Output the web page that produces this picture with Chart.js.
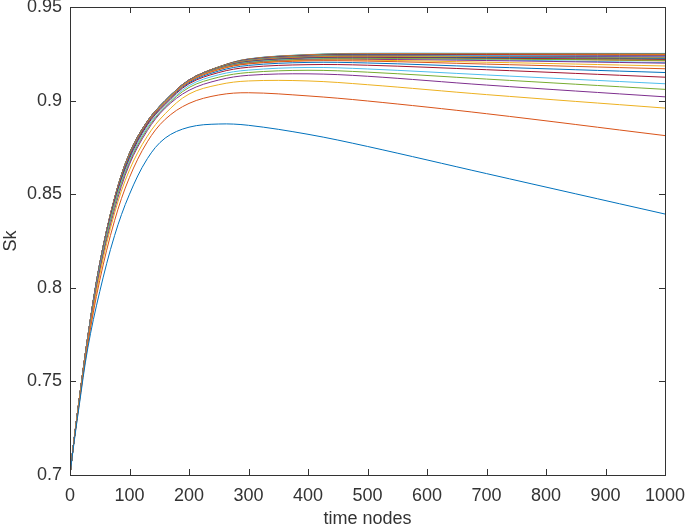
<!DOCTYPE html>
<html>
<head>
<meta charset="utf-8">
<script src="https://cdn.jsdelivr.net/npm/chart.js@4"></script>
<style>
  body { margin: 0; background: #fff; }
</style>
</head>
<body>
<canvas id="skChart" width="685" height="530"></canvas>
<script>
// sample positions along the time axis
const timeNodes = [0, 5, 15, 30, 50, 75, 100, 130, 160, 200, 250, 300, 400, 500, 700, 1000];

// lower, well separated curves
const sk01 = [0.700, 0.713, 0.736, 0.768, 0.798, 0.828, 0.850, 0.869, 0.880, 0.8858, 0.8875, 0.8868, 0.8820, 0.8755, 0.8610, 0.8394];
const sk02 = [0.700, 0.7135, 0.737, 0.770, 0.804, 0.836, 0.859, 0.878, 0.890, 0.8985, 0.9030, 0.9042, 0.9025, 0.8998, 0.8930, 0.8813];
const sk03 = [0.700, 0.7138, 0.738, 0.771, 0.807, 0.840, 0.863, 0.881, 0.893, 0.9035, 0.9085, 0.9105, 0.9105, 0.9085, 0.9032, 0.8960];
const sk04 = [0.700, 0.714, 0.738, 0.772, 0.809, 0.842, 0.866, 0.884, 0.896, 0.9055, 0.9110, 0.9135, 0.9143, 0.9130, 0.9083, 0.9020];
const sk05 = [0.700, 0.714, 0.7385, 0.7725, 0.810, 0.844, 0.867, 0.885, 0.8965, 0.9070, 0.9125, 0.9150, 0.9162, 0.9152, 0.9115, 0.9060];
const sk06 = [0.700, 0.714, 0.7385, 0.773, 0.811, 0.845, 0.868, 0.886, 0.897, 0.9080, 0.9138, 0.9163, 0.9177, 0.9169, 0.9137, 0.9090];
const sk07 = [0.700, 0.714, 0.739, 0.773, 0.8115, 0.846, 0.869, 0.887, 0.898, 0.9090, 0.9150, 0.9178, 0.9192, 0.9189, 0.9165, 0.9125];
const sk08 = [0.700, 0.714, 0.739, 0.7735, 0.812, 0.8465, 0.870, 0.8875, 0.8985, 0.9095, 0.9158, 0.9188, 0.9204, 0.9201, 0.9180, 0.9150];
const sk09 = [0.700, 0.714, 0.739, 0.7735, 0.812, 0.847, 0.8705, 0.888, 0.899, 0.9100, 0.9165, 0.9196, 0.9212, 0.9211, 0.9195, 0.9170];

// the dense band at the top
const sk10 = [0.700, 0.714, 0.739, 0.7736, 0.8122, 0.8472, 0.8707, 0.8882, 0.8993, 0.9103, 0.9168, 0.9198, 0.9216, 0.9216, 0.9205, 0.9185];
const sk11 = [0.700, 0.714, 0.739, 0.7737, 0.8123, 0.8473, 0.8709, 0.8884, 0.8995, 0.9105, 0.9170, 0.9200, 0.9218, 0.9220, 0.9214, 0.9200];
const sk12 = [0.700, 0.714, 0.739, 0.7737, 0.8124, 0.8474, 0.8711, 0.8885, 0.8996, 0.9106, 0.9172, 0.9203, 0.9221, 0.9224, 0.9222, 0.9215];
const sk13 = [0.700, 0.714, 0.739, 0.7738, 0.8125, 0.8475, 0.8712, 0.8886, 0.8997, 0.9107, 0.9173, 0.9205, 0.9223, 0.9226, 0.9218, 0.9203];
const sk14 = [0.700, 0.714, 0.739, 0.7738, 0.8126, 0.8476, 0.8713, 0.8887, 0.8997, 0.9108, 0.9174, 0.9207, 0.9226, 0.9229, 0.9226, 0.9220];
const sk15 = [0.700, 0.714, 0.739, 0.7738, 0.8126, 0.8477, 0.8714, 0.8887, 0.8998, 0.9108, 0.9175, 0.9209, 0.9228, 0.9231, 0.9230, 0.9226];
const sk16 = [0.700, 0.714, 0.739, 0.7739, 0.8127, 0.8477, 0.8715, 0.8888, 0.8998, 0.9109, 0.9176, 0.9210, 0.9230, 0.9233, 0.9226, 0.9212];
const sk17 = [0.700, 0.714, 0.739, 0.7739, 0.8127, 0.8478, 0.8716, 0.8888, 0.8999, 0.9109, 0.9177, 0.9212, 0.9232, 0.9236, 0.9233, 0.9229];
const sk18 = [0.700, 0.714, 0.739, 0.7739, 0.8128, 0.8478, 0.8716, 0.8889, 0.8999, 0.9110, 0.9177, 0.9213, 0.9234, 0.9238, 0.9236, 0.9233];
const sk19 = [0.700, 0.714, 0.739, 0.7739, 0.8128, 0.8479, 0.8717, 0.8889, 0.8999, 0.9110, 0.9178, 0.9215, 0.9236, 0.9240, 0.9235, 0.9222];
const sk20 = [0.700, 0.714, 0.739, 0.7740, 0.8129, 0.8479, 0.8718, 0.8890, 0.9000, 0.9110, 0.9178, 0.9216, 0.9237, 0.9242, 0.9240, 0.9237];
const sk21 = [0.700, 0.714, 0.739, 0.7740, 0.8129, 0.8479, 0.8718, 0.8890, 0.9000, 0.9110, 0.9179, 0.9218, 0.9239, 0.9244, 0.9243, 0.9240];
const sk22 = [0.700, 0.714, 0.739, 0.7740, 0.8129, 0.8480, 0.8719, 0.8890, 0.9000, 0.9110, 0.9179, 0.9219, 0.9240, 0.9246, 0.9241, 0.9230];
const sk23 = [0.700, 0.714, 0.739, 0.7740, 0.8130, 0.8480, 0.8719, 0.8890, 0.9000, 0.9110, 0.9179, 0.9220, 0.9242, 0.9247, 0.9246, 0.9244];
const sk24 = [0.700, 0.714, 0.739, 0.7740, 0.8130, 0.8480, 0.8720, 0.8890, 0.9000, 0.9110, 0.9180, 0.9221, 0.9243, 0.9249, 0.9248, 0.9246];
const sk25 = [0.700, 0.714, 0.739, 0.7740, 0.8130, 0.8480, 0.8720, 0.8890, 0.9000, 0.9110, 0.9180, 0.9222, 0.9244, 0.9250, 0.9249, 0.9248];
const sk26 = [0.700, 0.714, 0.739, 0.7740, 0.8130, 0.8480, 0.8720, 0.8890, 0.9000, 0.9110, 0.9180, 0.9222, 0.9245, 0.9251, 0.9251, 0.9250];
const sk27 = [0.700, 0.714, 0.739, 0.7740, 0.8130, 0.8480, 0.8720, 0.8890, 0.9000, 0.9110, 0.9180, 0.9223, 0.9246, 0.9253, 0.9253, 0.9252];

const xTicks = [0, 100, 200, 300, 400, 500, 600, 700, 800, 900, 1000];
const yTicks = [0.7, 0.75, 0.8, 0.85, 0.9, 0.95];

// matlab default line colours
const lineColors = ["#0072BD", "#D95319", "#EDB120", "#7E2F8E", "#77AC30", "#4DBEEE", "#A2142F"];

const allSeries = [sk01, sk02, sk03, sk04, sk05, sk06, sk07, sk08, sk09, sk10, sk11, sk12, sk13, sk14,
  sk15, sk16, sk17, sk18, sk19, sk20, sk21, sk22, sk23, sk24, sk25, sk26, sk27];

const datasets = allSeries.map((vals, i) => ({
  data: vals.map((v, j) => ({ x: timeNodes[j], y: v })),
  borderColor: lineColors[i % lineColors.length],
  borderWidth: 1,
  pointRadius: 0,
  fill: false,
  tension: 0.35,
}));

const axisColor = "#333333";
const axisFont = { family: "Liberation Sans, Arial, sans-serif", size: 18 };

// box round the plot and ticks pointing inwards, like matlab
const frameTicks = {
  id: "frameTicks",
  afterDatasetsDraw(chart) {
    const { ctx, chartArea: a, scales } = chart;
    ctx.save();
    ctx.strokeStyle = axisColor;
    ctx.lineWidth = 1;
    ctx.beginPath();
    xTicks.forEach((t) => {
      const px = Math.round(scales.x.getPixelForValue(t)) + 0.5;
      ctx.moveTo(px, a.bottom);
      ctx.lineTo(px, a.bottom - 6);
      ctx.moveTo(px, a.top);
      ctx.lineTo(px, a.top + 6);
    });
    yTicks.forEach((t) => {
      const py = Math.round(scales.y.getPixelForValue(t)) + 0.5;
      ctx.moveTo(a.left, py);
      ctx.lineTo(a.left + 6, py);
      ctx.moveTo(a.right, py);
      ctx.lineTo(a.right - 6, py);
    });
    ctx.stroke();
    ctx.strokeRect(Math.round(a.left) + 0.5, Math.round(a.top) + 0.5,
      Math.round(a.right - a.left), Math.round(a.bottom - a.top));
    ctx.restore();
  },
};

const ctx = document.getElementById("skChart").getContext("2d");
new Chart(ctx, {
  type: "line",
  data: { datasets: datasets },
  plugins: [frameTicks],
  options: {
    responsive: false,
    animation: false,
    layout: { padding: { left: 0, right: 20, top: 7, bottom: 0 } },
    plugins: {
      legend: { display: false },
      tooltip: { enabled: false },
    },
    scales: {
      x: {
        type: "linear",
        min: 0,
        max: 1000,
        afterBuildTicks: (scale) => {
          scale.ticks = xTicks.map((v) => ({ value: v }));
        },
        afterFit: (scale) => {
          scale.height = 55;
          scale.paddingLeft = 0;
          scale.paddingRight = 0;
        },
        grid: { display: false, drawTicks: false },
        border: { display: false },
        ticks: {
          padding: 10,
          maxRotation: 0,
          autoSkip: false,
          color: axisColor,
          font: axisFont,
          callback: (v) => String(v),
        },
        title: {
          display: true,
          text: "time nodes",
          color: axisColor,
          padding: 0,
          font: axisFont,
        },
      },
      y: {
        min: 0.7,
        max: 0.95,
        afterBuildTicks: (scale) => {
          scale.ticks = yTicks.map((v) => ({ value: v }));
        },
        afterFit: (scale) => {
          scale.width = 70;
          scale.paddingTop = 0;
          scale.paddingBottom = 0;
        },
        grid: { display: false, drawTicks: false },
        border: { display: false },
        ticks: {
          padding: 8,
          autoSkip: false,
          color: axisColor,
          font: axisFont,
          callback: (v) => String(+v.toFixed(2)),
        },
        title: {
          display: true,
          text: "Sk",
          color: axisColor,
          padding: 0,
          font: axisFont,
        },
      },
    },
  },
});
</script>
</body>
</html>
